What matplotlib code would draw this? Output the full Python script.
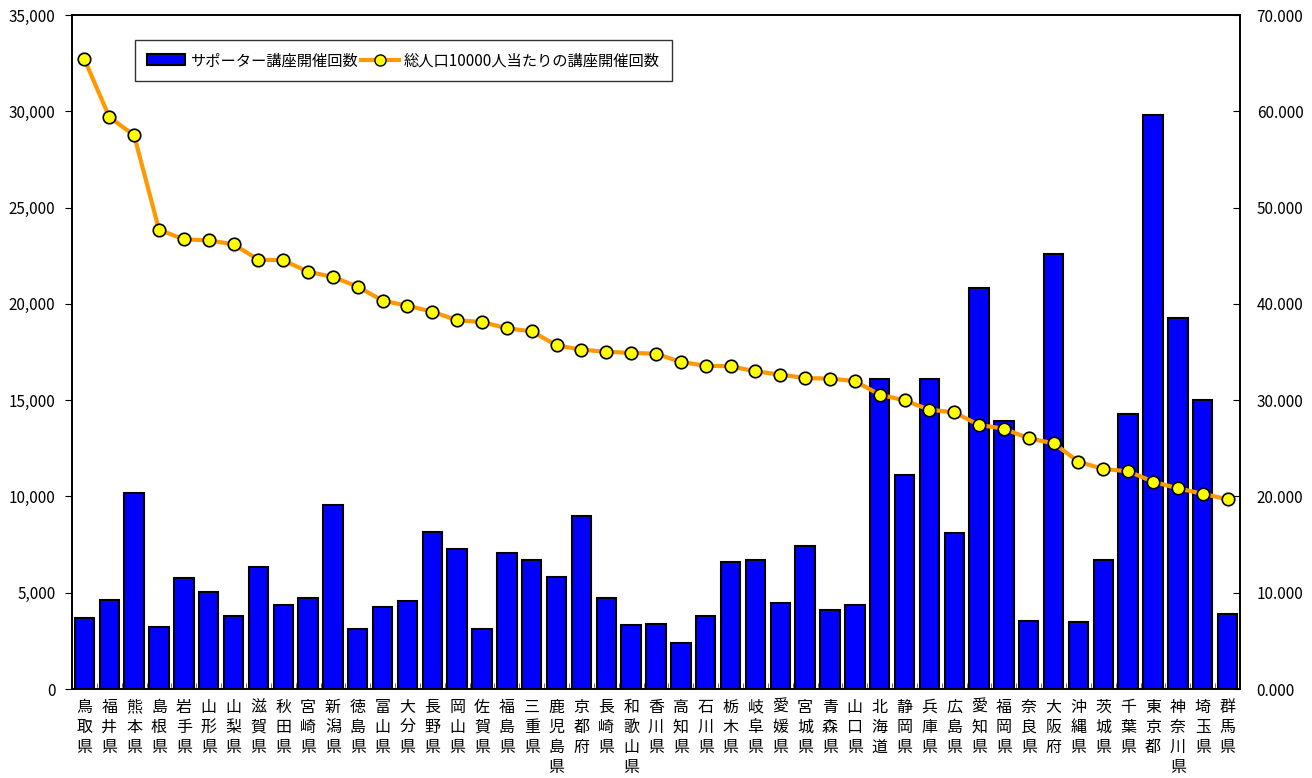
import matplotlib
matplotlib.use('Agg')
import matplotlib.pyplot as plt
from matplotlib.ticker import FuncFormatter, FixedLocator
from matplotlib.patches import Patch
from matplotlib.lines import Line2D

plt.rcParams['font.family'] = ['Noto Sans CJK JP', 'DejaVu Sans']

prefectures = ['鳥取県', '福井県', '熊本県', '島根県', '岩手県', '山形県', '山梨県', '滋賀県',
               '秋田県', '宮崎県', '新潟県', '徳島県', '富山県', '大分県', '長野県', '岡山県',
               '佐賀県', '福島県', '三重県', '鹿児島県', '京都府', '長崎県', '和歌山県', '香川県',
               '高知県', '石川県', '栃木県', '岐阜県', '愛媛県', '宮城県', '青森県', '山口県',
               '北海道', '静岡県', '兵庫県', '広島県', '愛知県', '福岡県', '奈良県', '大阪府',
               '沖縄県', '茨城県', '千葉県', '東京都', '神奈川県', '埼玉県', '群馬県']

# サポーター講座開催回数
courses = [3670, 4620, 10160, 3240, 5750, 5040, 3810, 6320,
           4360, 4740, 9560, 3100, 4240, 4590, 8170, 7270,
           3130, 7050, 6720, 5800, 8970, 4710, 3320, 3390,
           2390, 3810, 6580, 6680, 4470, 7410, 4100, 4360,
           16100, 11110, 16100, 8120, 20820, 13900, 3530, 22610,
           3500, 6680, 14300, 29810, 19250, 15010, 3880]

# 総人口10000人当たりの講座開催回数
per_10000 = [65.40, 59.41, 57.50, 47.71, 46.70, 46.60, 46.18, 44.59,
             44.52, 43.34, 42.79, 41.79, 40.33, 39.81, 39.19, 38.29,
             38.12, 37.46, 37.15, 35.69, 35.24, 35.03, 34.90, 34.83,
             33.96, 33.58, 33.51, 33.00, 32.65, 32.30, 32.23, 31.99,
             30.57, 29.98, 29.01, 28.73, 27.42, 27.04, 26.03, 25.52,
             23.61, 22.85, 22.61, 21.53, 20.84, 20.28, 19.70]

fig = plt.figure(figsize=(13.12, 7.78), dpi=100)
ax = fig.add_axes([72 / 1312, 1 - 689 / 778, 1168 / 1312, 674 / 778])
ax2 = ax.twinx()

x = list(range(len(prefectures)))
ax.bar(x, courses, width=0.78, color='#0000FF', edgecolor='black', linewidth=1.5, zorder=2)
ax2.plot(x, per_10000, color='#FF9900', linewidth=3, marker='o', markersize=9,
         markerfacecolor='#FFFF00', markeredgecolor='black', markeredgewidth=1.2, zorder=3)

ax.set_xlim(-0.5, len(prefectures) - 0.5)
ax.set_ylim(0, 35000)
ax2.set_ylim(0, 70)
ax.set_yticks(range(0, 35001, 5000))
ax2.set_yticks(range(0, 71, 10))
ax.yaxis.set_major_formatter(FuncFormatter(lambda v, p: f'{int(v):,}'))
ax2.yaxis.set_major_formatter(FuncFormatter(lambda v, p: f'{v:.3f}'))

ax.set_xticks(x)
ax.set_xticklabels(['\n'.join(p) for p in prefectures], fontsize=11.5, linespacing=1.25, va='top')
ax.tick_params(axis='x', length=0, pad=7)
ax.xaxis.set_minor_locator(FixedLocator([i - 0.5 for i in range(1, len(prefectures))]))
ax.tick_params(axis='x', which='minor', length=4, direction='in', color='#555555')
ax.tick_params(axis='y', labelsize=11, length=5, direction='out', pad=7)
ax2.tick_params(axis='y', labelsize=11, length=5, direction='in', pad=12)

for a in (ax, ax2):
    for s in a.spines.values():
        s.set_linewidth(1.2)

handles = [Patch(facecolor='#0000FF', edgecolor='black', linewidth=1.5),
           Line2D([], [], color='#FF9900', linewidth=3, marker='o', markersize=8,
                  markerfacecolor='#FFFF00', markeredgecolor='black')]
labels = ['サポーター講座開催回数', '総人口10000人当たりの講座開催回数']
leg = ax2.legend(handles, labels, loc='upper left', bbox_to_anchor=(0.054, 0.963), ncol=2,
                 fontsize=11, frameon=True, fancybox=False, edgecolor='black',
                 handlelength=2.5, columnspacing=0.2, handletextpad=0.3,
                 borderpad=0.8, borderaxespad=0)
leg.get_frame().set_linewidth(1.0)

plt.savefig('out.png', dpi=100)
plt.close()
